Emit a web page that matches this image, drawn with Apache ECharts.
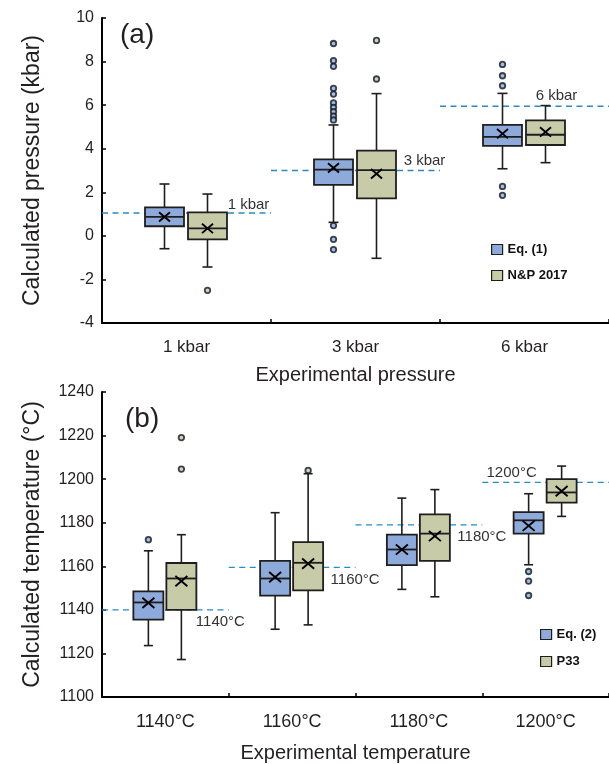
<!DOCTYPE html>
<html>
<head>
<meta charset="utf-8">
<script src="https://cdn.jsdelivr.net/npm/echarts@6/dist/echarts.min.js"></script>
<style>
html,body{margin:0;padding:0;background:#fff;}
#chart{width:609px;height:764px;}
</style>
</head>
<body>
<div id="chart"></div>
<script>
// ---------- DATA ----------
const pressureCats = ['1 kbar', '3 kbar', '6 kbar'];
// [min, Q1, median, Q3, max]
const eq1Stats = [
  [-0.59, 0.44, 0.87, 1.31, 2.38],
  [0.62, 2.34, 3.04, 3.51, 5.09],
  [3.08, 4.13, 4.54, 5.09, 6.54]
];
const eq1Means = [0.87, 3.12, 4.69];
const eq1Outliers = [
  [1, 8.83], [1, 8.04], [1, 7.78], [1, 6.77], [1, 6.51], [1, 6.10], [1, 5.90], [1, 5.70], [1, 5.50], [1, 5.32],
  [1, 0.47], [1, -0.16], [1, -0.63],
  [2, 7.87], [2, 7.35], [2, 6.89], [2, 2.27], [2, 1.86]
];
const npStats = [
  [-1.43, -0.16, 0.34, 1.08, 1.92],
  [-1.03, 1.72, 3.02, 3.91, 6.53],
  [3.36, 4.17, 4.64, 5.30, 5.98]
];
const npMeans = [0.34, 2.85, 4.77];
const npOutliers = [[0, -2.5], [1, 8.97], [1, 7.20]];
const pressureRef = [1.05, 3.0, 5.95];
const pressureRefLabels = ['1 kbar', '3 kbar', '6 kbar'];
const pressureTicks = { min: -4, max: 10, interval: 2 };

const tempCats = ['1140°C', '1160°C', '1180°C', '1200°C'];
const eq2Stats = [
  [1123.6, 1135.5, 1143.4, 1148.5, 1167.1],
  [1131.1, 1146.5, 1154.4, 1162.5, 1184.6],
  [1149.4, 1160.5, 1167.7, 1174.5, 1191.3],
  [1160.7, 1175.0, 1181.1, 1184.9, 1193.3]
];
const eq2Means = [1143.2, 1155.0, 1167.7, 1178.6];
const eq2Outliers = [[0, 1172.2], [3, 1157.6], [3, 1153.2], [3, 1146.6]];
const p33Stats = [
  [1117.2, 1140.0, 1154.4, 1161.5, 1174.5],
  [1133.1, 1148.9, 1161.6, 1171.1, 1202.5],
  [1146.0, 1162.5, 1175.0, 1183.8, 1195.2],
  [1182.9, 1189.2, 1193.9, 1200.0, 1206.0]
];
const p33Means = [1153.2, 1161.2, 1173.9, 1194.5];
const p33Outliers = [[0, 1219.1], [0, 1204.6], [1, 1204.0]];
const tempRef = [1140, 1159.5, 1179, 1198.5];
const tempRefLabels = ['1140°C', '1160°C', '1180°C', '1200°C'];
const tempTicks = { min: 1100, max: 1240, interval: 20 };

// ---------- STYLE ----------
const FONT = 'Liberation Sans, Arial, Helvetica, sans-serif';
const TXT = '#231f20';
const BLUE = '#8eaadb';
const GREEN = '#c8cba8';
const EDGE = '#1e1e1e';
const REF = '#2a8ac4';
// label offsets (px) relative to category centre / reference line
const pressureRefLabelPos = [[62, -8], [69, -10], [32, -10]];
const tempRefLabelPos = [[55, 12], [63, 12], [63, 11.5], [-34, -10]];

function boxData(stats, means) {
  return stats.map((s, i) => [i, s[0], s[1], s[2], s[3], s[4], means[i]]);
}

function boxRenderer(offset, boxW, capW, xHalf) {
  return function (params, api) {
    const c = api.value(0);
    const xc = api.coord([c, api.value(3)])[0] + offset;
    const y = k => api.coord([c, api.value(k)])[1];
    const yMin = y(1), yQ1 = y(2), yMed = y(3), yQ3 = y(4), yMax = y(5), yMean = y(6);
    const fill = api.visual('color');
    const ls = { stroke: EDGE, lineWidth: 1.6 };
    const hw = boxW / 2, hc = capW / 2;
    return {
      type: 'group',
      children: [
        { type: 'line', shape: { x1: xc, y1: yMax, x2: xc, y2: yQ3 }, style: ls },
        { type: 'line', shape: { x1: xc, y1: yQ1, x2: xc, y2: yMin }, style: ls },
        { type: 'line', shape: { x1: xc - hc, y1: yMax, x2: xc + hc, y2: yMax }, style: ls },
        { type: 'line', shape: { x1: xc - hc, y1: yMin, x2: xc + hc, y2: yMin }, style: ls },
        { type: 'rect', shape: { x: xc - hw, y: yQ3, width: boxW, height: yQ1 - yQ3 },
          style: { fill: fill, stroke: EDGE, lineWidth: 1.8 } },
        { type: 'line', shape: { x1: xc - hw, y1: yMed, x2: xc + hw, y2: yMed }, style: { stroke: EDGE, lineWidth: 1.8 } },
        { type: 'line', shape: { x1: xc - xHalf, y1: yMean - xHalf * 0.85, x2: xc + xHalf, y2: yMean + xHalf * 0.85 }, style: { stroke: '#000', lineWidth: 1.9 } },
        { type: 'line', shape: { x1: xc - xHalf, y1: yMean + xHalf * 0.85, x2: xc + xHalf, y2: yMean - xHalf * 0.85 }, style: { stroke: '#000', lineWidth: 1.9 } }
      ]
    };
  };
}

function refRenderer(labels, pos) {
  return function (params, api) {
    const i = params.dataIndex;
    const c = api.value(0);
    const p = api.coord([c, api.value(1)]);
    const bw = api.size([1, 0])[0];
    return {
      type: 'group',
      children: [
        { type: 'line', shape: { x1: p[0] - bw / 2, y1: p[1], x2: p[0] + bw / 2, y2: p[1] },
          style: { stroke: REF, lineWidth: 1.4, lineDash: [6, 4.5] } },
        { type: 'text', x: p[0] + pos[i][0], y: p[1] + pos[i][1],
          style: { text: labels[i], fill: '#333', font: '15px ' + FONT, align: 'center', verticalAlign: 'middle' } }
      ]
    };
  };
}

function outlierSeries(name, data, xi, yi, color, off) {
  return {
    name: name, type: 'scatter', xAxisIndex: xi, yAxisIndex: yi, data: data,
    symbol: 'circle', symbolSize: 5.5, symbolOffset: [off, 0],
    itemStyle: { color: color, borderColor: '#101820', borderWidth: 1.8 }, z: 5
  };
}

function xAxisCfg(gi, cats, name, fs, margin, gap) {
  return {
    type: 'category', gridIndex: gi, data: cats,
    axisLine: { show: true, onZero: false, lineStyle: { color: '#000', width: 2 } },
    axisTick: { show: true, inside: true, length: 4, lineStyle: { color: '#000', width: 1.5 } },
    axisLabel: { fontSize: fs, color: TXT, fontFamily: FONT, margin: margin },
    splitLine: { show: false },
    name: name, nameLocation: 'middle', nameGap: gap,
    nameTextStyle: { fontSize: 20, color: TXT, fontFamily: FONT }
  };
}
function yAxisCfg(gi, t, name, gap) {
  return {
    type: 'value', gridIndex: gi, min: t.min, max: t.max, interval: t.interval,
    axisLine: { show: true, onZero: false, lineStyle: { color: '#000', width: 2 } },
    axisTick: { show: true, inside: true, length: 4, lineStyle: { color: '#000', width: 1.5 } },
    axisLabel: { fontSize: 16, color: TXT, fontFamily: FONT, margin: 8, formatter: v => String(v) },
    splitLine: { show: false },
    name: name, nameLocation: 'middle', nameGap: gap, nameRotate: 90,
    nameTextStyle: { fontSize: 23, color: TXT, fontFamily: FONT }
  };
}

const chart = echarts.init(document.getElementById('chart'), null, { renderer: 'canvas' });
chart.setOption({
  animation: false,
  backgroundColor: '#fff',
  grid: [
    { left: 102, top: 18, width: 515, height: 305 },
    { left: 102, top: 392, width: 515, height: 305 }
  ],
  xAxis: [
    xAxisCfg(0, pressureCats, 'Experimental pressure', 17, 16, 42),
    xAxisCfg(1, tempCats, 'Experimental temperature', 18, 16, 46)
  ],
  yAxis: [
    yAxisCfg(0, pressureTicks, 'Calculated pressure (kbar)', 58),
    yAxisCfg(1, tempTicks, 'Calculated temperature (°C)', 58)
  ],
  legend: [
    { left: 491, top: 243, orient: 'vertical', itemWidth: 11, itemHeight: 10, itemGap: 13, padding: 0,
      selectedMode: false, icon: 'rect',
      textStyle: { fontSize: 13, fontWeight: 'bold', color: '#111', fontFamily: FONT },
      data: [
        { name: 'Eq. (1)', itemStyle: { color: BLUE, borderColor: EDGE, borderWidth: 1.2 } },
        { name: 'N&P 2017', itemStyle: { color: GREEN, borderColor: EDGE, borderWidth: 1.2 } }
      ] },
    { left: 540, top: 628, orient: 'vertical', itemWidth: 11, itemHeight: 10, itemGap: 14, padding: 0,
      selectedMode: false, icon: 'rect',
      textStyle: { fontSize: 13, fontWeight: 'bold', color: '#111', fontFamily: FONT },
      data: [
        { name: 'Eq. (2)', itemStyle: { color: BLUE, borderColor: EDGE, borderWidth: 1.2 } },
        { name: 'P33', itemStyle: { color: GREEN, borderColor: EDGE, borderWidth: 1.2 } }
      ] }
  ],
  graphic: [
    { type: 'text', left: 120, top: 21, style: { text: '(a)', font: '28px ' + FONT, fill: TXT } },
    { type: 'text', left: 125, top: 405, style: { text: '(b)', font: '28px ' + FONT, fill: TXT } }
  ],
  series: [
    { name: 'ref-a', type: 'custom', xAxisIndex: 0, yAxisIndex: 0, z: 1,
      data: pressureRef.map((v, i) => [i, v]), encode: { x: 0, y: 1 },
      renderItem: refRenderer(pressureRefLabels, pressureRefLabelPos) },
    { name: 'Eq. (1)', type: 'custom', xAxisIndex: 0, yAxisIndex: 0, z: 3,
      itemStyle: { color: BLUE, borderColor: EDGE, borderWidth: 1.2 },
      data: boxData(eq1Stats, eq1Means), encode: { x: 0, y: [1, 2, 3, 4, 5] },
      renderItem: boxRenderer(-22, 39, 10, 5.5) },
    { name: 'N&P 2017', type: 'custom', xAxisIndex: 0, yAxisIndex: 0, z: 3,
      itemStyle: { color: GREEN, borderColor: EDGE, borderWidth: 1.2 },
      data: boxData(npStats, npMeans), encode: { x: 0, y: [1, 2, 3, 4, 5] },
      renderItem: boxRenderer(21, 39, 10, 5.5) },
    outlierSeries('Eq. (1) outliers', eq1Outliers, 0, 0, BLUE, -22),
    outlierSeries('N&P 2017 outliers', npOutliers, 0, 0, GREEN, 21),

    { name: 'ref-b', type: 'custom', xAxisIndex: 1, yAxisIndex: 1, z: 1,
      data: tempRef.map((v, i) => [i, v]), encode: { x: 0, y: 1 },
      renderItem: refRenderer(tempRefLabels, tempRefLabelPos) },
    { name: 'Eq. (2)', type: 'custom', xAxisIndex: 1, yAxisIndex: 1, z: 3,
      itemStyle: { color: BLUE, borderColor: EDGE, borderWidth: 1.2 },
      data: boxData(eq2Stats, eq2Means), encode: { x: 0, y: [1, 2, 3, 4, 5] },
      renderItem: boxRenderer(-17, 30, 9, 6) },
    { name: 'P33', type: 'custom', xAxisIndex: 1, yAxisIndex: 1, z: 3,
      itemStyle: { color: GREEN, borderColor: EDGE, borderWidth: 1.2 },
      data: boxData(p33Stats, p33Means), encode: { x: 0, y: [1, 2, 3, 4, 5] },
      renderItem: boxRenderer(16, 30, 9, 6) },
    outlierSeries('Eq. (2) outliers', eq2Outliers, 1, 1, BLUE, -17),
    outlierSeries('P33 outliers', p33Outliers, 1, 1, GREEN, 16)
  ]
});
</script>
</body>
</html>
